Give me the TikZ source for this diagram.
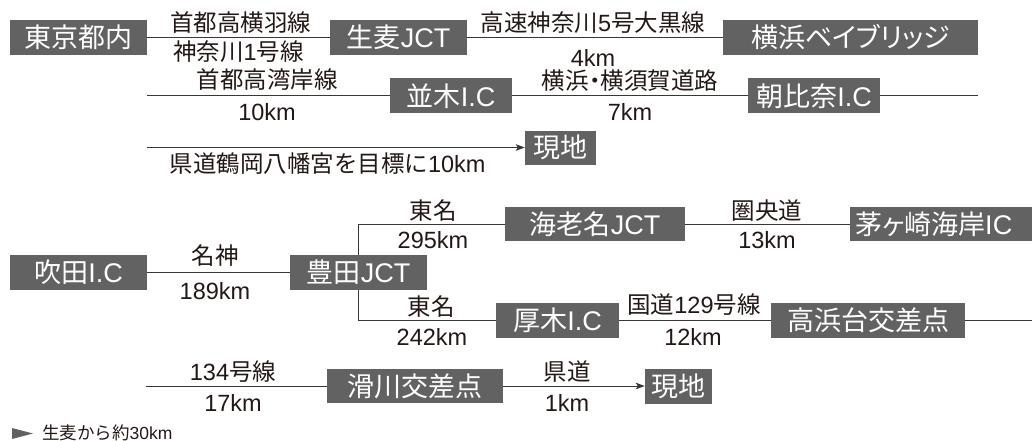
\documentclass[tikz,border=0pt]{standalone}
\usepackage{fontspec}
\setmainfont{Liberation Sans}
\newfontfamily\jpfont{Noto Sans CJK JP}
\newfontfamily\jppfont[RawFeature=+palt]{Noto Sans CJK JP}
\newcommand\J[1]{{\jpfont #1}}
\newcommand\JP[1]{{\jppfont #1}}
\usetikzlibrary{arrows.meta,backgrounds}
\definecolor{boxgray}{RGB}{98,98,98}
\definecolor{linegray}{RGB}{55,55,55}
\definecolor{labelblack}{RGB}{35,24,21}
\begin{document}
\begin{tikzpicture}[x=1pt,y=-1pt,
  box/.style={fill=boxgray, text=white, font=\fontsize{27}{27}\selectfont,
    inner sep=0pt, minimum height=35pt, text height=22.1pt, text depth=1.6pt},
  lbl/.style={font=\fontsize{23.5}{23.5}\selectfont, text=labelblack,
    inner sep=0pt, text height=19.3pt, text depth=1.4pt},
  note/.style={font=\fontsize{17.5}{17.5}\selectfont, text=labelblack,
    inner sep=0pt, text height=14.3pt, text depth=1.0pt},
  road/.style={draw=linegray, line width=1pt},
  arr/.style={road, -{Stealth[length=9pt,width=6.5pt,inset=2pt]}}
]
\useasboundingbox (0,0) rectangle (1032,441);

% boxes
\node[box, minimum width=137pt] (tokyo) at (78.5,37.5) {\J{東京都内}};
\node[box, minimum width=137pt] (namamugi) at (398.5,37.5) {\J{生麦}JCT};
\node[box, minimum width=255pt] (bay) at (850.5,37.5) {\JP{横浜ベイブリッジ}};
\node[box, minimum width=122pt] (namiki) at (451,96) {\J{並木}I.C};
\node[box, minimum width=132pt] (asahina) at (814,96) {\J{朝比奈}I.C};
\node[box, minimum width=71pt, minimum height=34pt] (genchiA) at (560.5,147.5) {\J{現地}};
\node[box, minimum width=137pt] (suita) at (78.5,272) {\J{吹田}I.C};
\node[box, minimum width=137pt] (toyota) at (358.5,272) {\J{豊田}JCT};
\node[box, minimum width=180pt, minimum height=34pt] (ebina) at (595,224) {\J{海老名}JCT};
\node[box, minimum height=34pt, inner xsep=5pt, anchor=west] (chigasaki) at (850,224)
  {\makebox[200pt][l]{\JP{茅ヶ崎海岸}IC}};
\node[box, minimum width=123pt] (atsugi) at (557.5,320) {\J{厚木}I.C};
\node[box, minimum width=194pt] (takahama) at (868,320) {\J{高浜台交差点}};
\node[box, minimum width=176pt, minimum height=34pt] (namerikawa) at (415,386) {\J{滑川交差点}};
\node[box, minimum width=67pt, minimum height=35pt] (genchiB) at (678.5,386) {\J{現地}};

% free ends
\coordinate (r2start) at (147,96);
\coordinate (r2end) at (978,96);
\coordinate (r3start) at (147,147.5);
\coordinate (r5end) at (1032,320);
\coordinate (r6start) at (146,386);

% labels
\node[lbl] (l1a) at (240.5,22.5) {\J{首都高横羽線}};
\node[lbl] (l1b) at (238.5,52) {\J{神奈川}1\J{号線}};
\node[lbl] (l2a) at (593,22.5) {\J{高速神奈川}5\J{号大黒線}};
\node[lbl] (l2b) at (593,57.5) {4km};
\node[lbl] (l3a) at (267,80) {\J{首都高湾岸線}};
\node[lbl] (l3b) at (267,112) {10km};
\node[lbl] (l4a) at (630,81) {\JP{横浜・横須賀道路}};
\node[lbl] (l4b) at (630,112) {7km};
\node[lbl] (l5) at (327.5,164) {\J{県道鶴岡八幡宮を目標に}10km};
\node[lbl] (l6a) at (215,256) {\J{名神}};
\node[lbl] (l6b) at (215,291) {189km};
\node[lbl] (l7a) at (433,211) {\J{東名}};
\node[lbl] (l7b) at (433,240) {295km};
\node[lbl] (l8a) at (767,211) {\J{圏央道}};
\node[lbl] (l8b) at (767,240) {13km};
\node[lbl] (l9a) at (431,307) {\J{東名}};
\node[lbl] (l9b) at (432,337) {242km};
\node[lbl] (l10a) at (694,305) {\J{国道}129\J{号線}};
\node[lbl] (l10b) at (693,337) {12km};
\node[lbl] (l11a) at (233,372) {134\J{号線}};
\node[lbl] (l11b) at (233,403) {17km};
\node[lbl] (l12a) at (567,372) {\J{県道}};
\node[lbl] (l12b) at (567,403) {1km};

% footnote
\fill[boxgray] (12,428) -- (33,433.5) -- (12,439) -- cycle;
\node[note, anchor=west] (fn) at (42,432.5) {\J{生麦から約}30km};

% connectors
\begin{scope}[on background layer]
\draw[road] (tokyo.east) -- (namamugi.west);
\draw[road] (namamugi.east) -- (bay.west);
\draw[road] (r2start) -- (namiki.west);
\draw[road] (namiki.east) -- (asahina.west);
\draw[road] (asahina.east) -- (r2end);
\draw[arr] (r3start) -- (genchiA.west);
\draw[road] (suita.east) -- (toyota.west);
\draw[road] (ebina.west) -- (ebina.west -| toyota.center) -- (atsugi.west -| toyota.center) -- (atsugi.west);
\draw[road] (ebina.east) -- (chigasaki.west);
\draw[road] (atsugi.east) -- (takahama.west);
\draw[road] (takahama.east) -- (r5end);
\draw[road] (r6start) -- (namerikawa.west);
\draw[arr] (namerikawa.east) -- (genchiB.west);
\end{scope}
\end{tikzpicture}
\end{document}
